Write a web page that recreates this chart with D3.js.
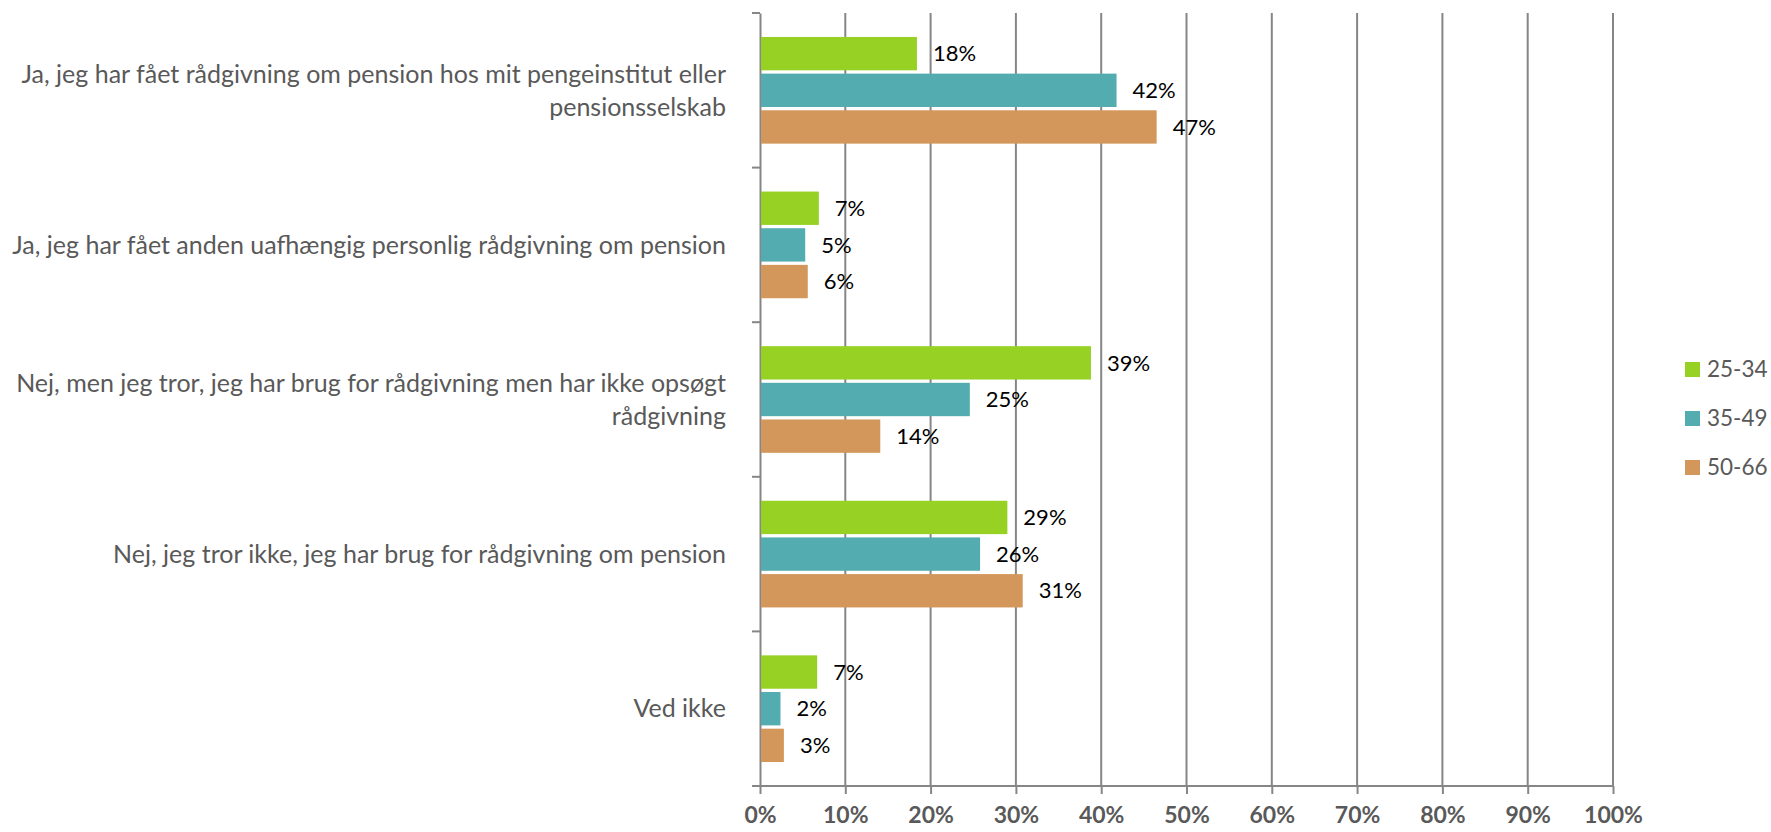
<!DOCTYPE html>
<html>
<head>
<meta charset="utf-8">
<script src="https://cdn.jsdelivr.net/npm/d3@7"></script>
<style>
  body { margin: 0; background: #fff; }
  svg { display: block; }
</style>
</head>
<body>
<script>
// Data
const categories = [
  "Ja, jeg har fået rådgivning om pension hos mit pengeinstitut eller\npensionsselskab",
  "Ja, jeg har fået anden uafhængig personlig rådgivning om pension",
  "Nej, men jeg tror, jeg har brug for rådgivning men har ikke opsøgt\nrådgivning",
  "Nej, jeg tror ikke, jeg har brug for rådgivning om pension",
  "Ved ikke"
];
const series = ["25-34", "35-49", "50-66"];
const v2534 = [18.4, 6.9, 38.8, 29.0, 6.7];
const v3549 = [41.8, 5.3, 24.6, 25.8, 2.4];
const v5066 = [46.5, 5.6, 14.1, 30.8, 2.8];
const xTicks = [0, 10, 20, 30, 40, 50, 60, 70, 80, 90, 100];

const values = [v2534, v3549, v5066];
const colors = ["#97d124", "#53acb0", "#d4975b"];

var W = 1771, H = 832;
var margin = {top: 13, left: 760, right: 158, bottom: 46};

var svg = d3.select("body").append("svg")
  .attr("width", W)
  .attr("height", H);

var x = d3.scaleLinear()
  .domain([0, 100])
  .range([margin.left, W - margin.right]);

var y = d3.scaleBand()
  .domain(categories)
  .range([margin.top, H - margin.bottom]);

var bw = y.bandwidth();
var ySub = d3.scaleBand()
  .domain(series)
  .range([bw * 0.155, bw * 0.845])
  .paddingInner(0.09);

var color = d3.scaleOrdinal().domain(series).range(colors);

var font = "Lato, 'Open Sans', sans-serif";

// vertical gridlines
svg.append("g")
  .selectAll("line")
  .data(xTicks.slice(1))
  .enter().append("line")
  .attr("x1", d => x(d)).attr("x2", d => x(d))
  .attr("y1", margin.top).attr("y2", H - margin.bottom)
  .style("stroke", "#868686")
  .style("stroke-width", 2);

// bottom axis
var xAxis = svg.append("g")
  .attr("transform", "translate(0," + (H - margin.bottom) + ")")
  .call(d3.axisBottom(x).tickValues(xTicks).tickFormat(d => d + "%").tickSize(8).tickSizeOuter(0).tickPadding(13));
xAxis.select(".domain").attr("d", "M" + (x(0) - 8) + ",0H" + x(100)).style("stroke", "#868686").style("stroke-width", 2);
xAxis.selectAll(".tick line").style("stroke", "#868686").style("stroke-width", 2);
xAxis.selectAll(".tick text")
  .style("font-family", font)
  .style("font-size", "23px")
  .style("font-weight", "bold")
  .style("fill", "#595959");

// left axis
var yAxis = svg.append("g")
  .attr("transform", "translate(" + margin.left + ",0)")
  .call(d3.axisLeft(y).tickValues([]).tickSizeOuter(0));
yAxis.select(".domain").style("stroke", "#868686").style("stroke-width", 2);

var bounds = [margin.top].concat(categories.map(c => y(c) + bw));
svg.append("g")
  .selectAll("line")
  .data(bounds)
  .enter().append("line")
  .attr("x1", margin.left - 8).attr("x2", margin.left)
  .attr("y1", d => d).attr("y2", d => d)
  .style("stroke", "#868686")
  .style("stroke-width", 2);

// category labels
var catLabels = svg.append("g")
  .selectAll("text")
  .data(categories)
  .enter().append("text")
  .attr("text-anchor", "end")
  .style("font-family", font)
  .style("font-size", "25px")
  .style("fill", "#595959");

catLabels.each(function(d) {
  var lines = d.split("\n");
  var lh = 33;
  var cy = y(d) + bw / 2 - (lines.length - 1) * lh / 2;
  d3.select(this).selectAll("tspan")
    .data(lines)
    .enter().append("tspan")
    .attr("x", margin.left - 34)
    .attr("y", (l, i) => cy + i * lh)
    .attr("dy", "0.35em")
    .text(l => l);
});

// bars
series.forEach(function(s, si) {
  var g = svg.append("g");
  g.selectAll("rect")
    .data(values[si])
    .enter().append("rect")
    .attr("x", x(0) + 1)
    .attr("y", (d, i) => y(categories[i]) + ySub(s))
    .attr("width", d => x(d) - x(0) - 1)
    .attr("height", ySub.bandwidth())
    .style("fill", color(s));

  g.selectAll("text")
    .data(values[si])
    .enter().append("text")
    .attr("x", d => x(d) + 16)
    .attr("y", (d, i) => y(categories[i]) + ySub(s) + ySub.bandwidth() / 2)
    .attr("dy", "0.35em")
    .style("font-family", font)
    .style("font-size", "22px")
    .style("fill", "#000")
    .text(d => Math.round(d) + "%");
});

// legend
var legend = svg.selectAll(".legend")
  .data(series)
  .enter().append("g")
  .attr("class", "legend")
  .attr("transform", (d, i) => "translate(1685," + (362 + i * 49) + ")");

legend.append("rect")
  .attr("width", 15)
  .attr("height", 15)
  .style("fill", color);

legend.append("text")
  .attr("x", 22)
  .attr("y", 7.5)
  .attr("dy", "0.35em")
  .style("font-family", font)
  .style("font-size", "22.5px")
  .style("fill", "#595959")
  .text(d => d);
</script>
</body>
</html>
